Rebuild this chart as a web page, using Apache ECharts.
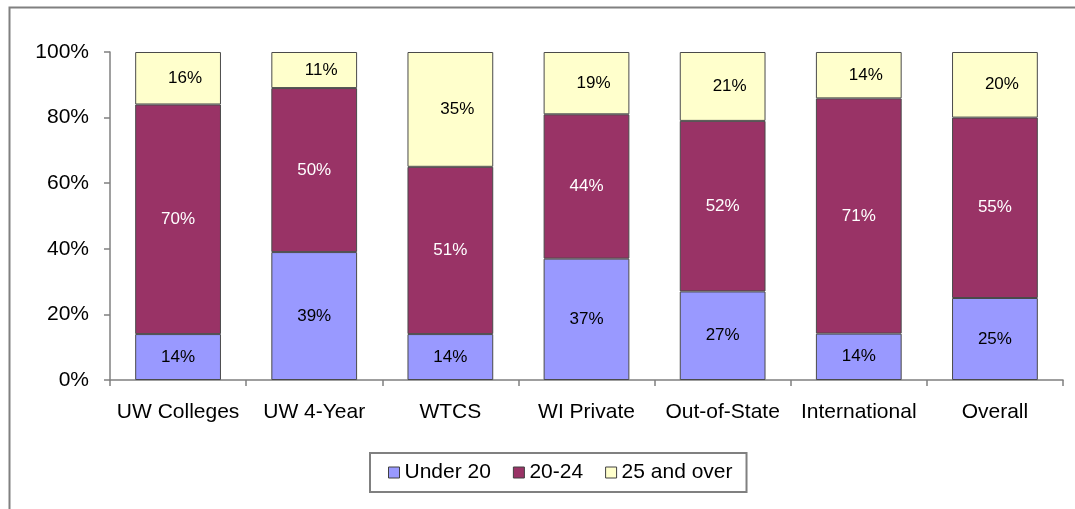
<!DOCTYPE html>
<html>
<head>
<meta charset="utf-8">
<script src="https://cdn.jsdelivr.net/npm/echarts@6/dist/echarts.min.js"></script>
<style>
html,body{margin:0;padding:0;background:#fff;}
#chart{width:1075px;height:509px;}
</style>
</head>
<body>
<div id="chart"></div>
<script>
const categories = ['UW Colleges', 'UW 4-Year', 'WTCS', 'WI Private', 'Out-of-State', 'International', 'Overall'];
const under20 = [14, 39, 14, 37, 27, 14, 25];
const age20to24 = [70, 50, 51, 44, 52, 71, 55];
const age25over = [16, 11, 35, 19, 21, 14, 20];
const seriesNames = ['Under 20', '20-24', '25 and over'];
const yTicks = [0, 20, 40, 60, 80, 100];

const FONT = '"Liberation Sans", Arial, sans-serif';
const raw = [under20, age20to24, age25over];
const totals = categories.map((c, i) => raw.reduce((s, a) => s + a[i], 0));
const colors = ['#9999FF', '#993366', '#FFFFCC'];
const labelColors = ['#000', '#fff', '#000'];
const labelOffsets = [[0, 0], [0, 0], [7, 0]];

const chart = echarts.init(document.getElementById('chart'), null, {renderer: 'canvas'});
chart.setOption({
  backgroundColor: '#fff',
  animation: false,
  textStyle: {fontFamily: FONT},
  graphic: [{
    type: 'rect', left: 7, top: 5, silent: true,
    shape: {width: 1200, height: 700},
    style: {fill: 'none', stroke: '#808080', lineWidth: 2}
  }],
  grid: {left: 110, right: 12, top: 52, bottom: 129, containLabel: false},
  legend: {
    data: seriesNames,
    left: 370, top: 453,
    orient: 'horizontal',
    borderColor: '#808080', borderWidth: 2,
    padding: [9, 14, 9, 18],
    itemWidth: 11, itemHeight: 11, itemGap: 22,
    icon: 'rect',
    itemStyle: {borderColor: '#404040', borderWidth: 1},
    textStyle: {fontSize: 21, color: '#000', fontFamily: FONT}
  },
  xAxis: {
    type: 'category',
    data: categories,
    axisLine: {lineStyle: {color: '#808080', width: 1.5}},
    axisTick: {show: true, alignWithLabel: false, length: 6, lineStyle: {color: '#808080', width: 1.5}},
    axisLabel: {fontSize: 21, color: '#000', margin: 22, fontFamily: FONT, interval: 0},
    splitLine: {show: false}
  },
  yAxis: {
    type: 'value',
    min: yTicks[0], max: yTicks[yTicks.length - 1], interval: 20,
    axisLine: {show: true, lineStyle: {color: '#808080', width: 1.5}},
    axisTick: {show: true, inside: false, length: 6, lineStyle: {color: '#808080', width: 1.5}},
    axisLabel: {fontSize: 21, color: '#000', margin: 21, fontFamily: FONT, formatter: v => v + '%'},
    splitLine: {show: false}
  },
  series: raw.map((arr, k) => ({
    name: seriesNames[k],
    type: 'bar',
    stack: 'total',
    barWidth: '63%',
    data: arr.map((v, i) => v / totals[i] * 100),
    itemStyle: {color: colors[k], borderColor: '#4a4a4a', borderWidth: 1},
    label: {
      show: true,
      position: 'inside',
      offset: labelOffsets[k],
      color: labelColors[k],
      fontSize: 17,
      fontFamily: FONT,
      textBorderWidth: 0,
      formatter: p => arr[p.dataIndex] + '%'
    },
    emphasis: {disabled: true}
  }))
});
</script>
</body>
</html>
